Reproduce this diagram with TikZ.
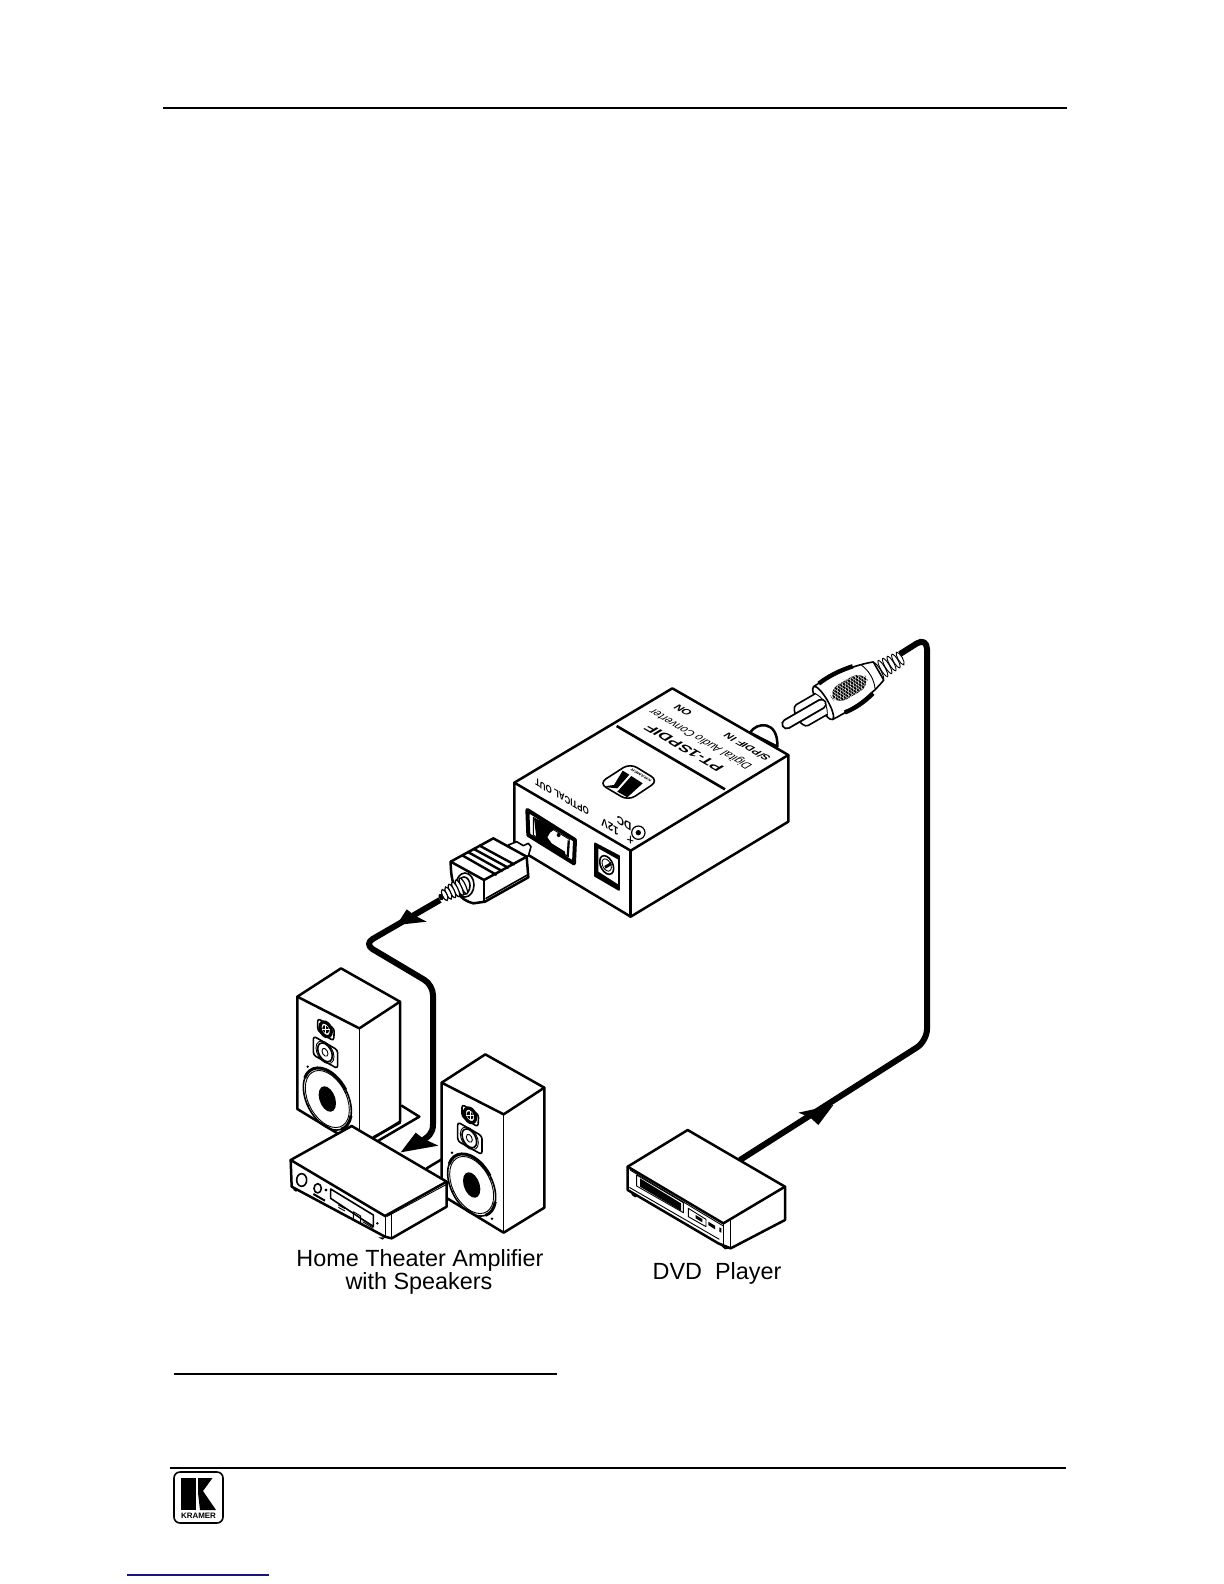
\documentclass[tikz,border=0pt]{standalone}
\usepackage{fontspec}
\usepackage{graphicx}
\setmainfont{Liberation Sans}
\definecolor{linkblue}{RGB}{20,20,130}
\tikzset{
  x=0.5pt,y=-0.5pt,
  heavy/.style={line width=1.25pt,line join=round,line cap=round},
  med/.style={line width=.8pt,line join=round,line cap=round},
  thin line/.style={line width=.45pt,line join=round},
  cable/.style={line width=3pt,line join=round,line cap=butt},
  rule/.style={line width=.75pt},
  zmA/.style={shift={(420,630)},scale=1/3},
  zmB/.style={shift={(270,940)},scale=1/3},
  zmC/.style={shift={(600,1080)},scale=1/3},
  zmF/.style={shift={(360,800)},scale=1/3},
  zmG/.style={shift={(500,680)},scale=1/3},
  label text/.style={font=\fontsize{11.7pt}{12.2pt}\selectfont,inner sep=0pt,anchor=base},
}
\newcommand\skewtext[5]{\begin{scope}[shift={(#2,#3)},cm={#4,(0,0)}]\node[transform shape,inner sep=0pt] (#1) {#5};\end{scope}}
\newcommand\fitbox[3]{\resizebox{#1pt}{#2pt}{#3}}
\newcommand\speaker{%
  \draw[heavy,fill=white] (213,85)--(390,185)--(390,545)--(268,620)--(82,507)--(82,170)--cycle;
  \draw[heavy] (82,170)--(268,265)--(390,185);
  \draw[med] (268,265)--(268,620);
  % tweeter
  \draw[med,rounded corners=1.5pt,fill=white] (143,235)--(193,266)--(191,303)--(143,272)--cycle;
  \draw[line width=1.6pt,shift={(167,268)},yslant=-.4] (0,0) ellipse (17 and 21);
  \fill[shift={(167,268)},yslant=-.4] (0,0) ellipse (10 and 12);
  \draw[white,line width=.3pt] (155,268)--(180,268) (167,255)--(167,282);
  % mid
  \draw[med,rounded corners=1.5pt,fill=white] (130,288)--(203,330)--(203,386)--(130,345)--cycle;
  \draw[thin line,shift={(165,337)},yslant=-.5] (0,0) ellipse (27 and 31) (0,0) ellipse (9 and 11);
  \draw[med,shift={(165,337)},yslant=-.5] (0,0) ellipse (22 and 26);
  % woofer
  \draw[med,shift={(172,477)},yslant=-.5] (0,0) ellipse (72 and 86);
  \draw[thin line,shift={(172,477)},yslant=-.5] (0,0) ellipse (66 and 79);
  \fill[shift={(172,477)},yslant=-.5] (0,0) ellipse (26 and 36);
  \draw[line width=1.5pt,shift={(172,477)},yslant=-.5] (200:72 and 86) arc[start angle=200,end angle=320,x radius=72,y radius=86];
  \draw[line width=1.5pt,shift={(172,477)},yslant=-.5] (10:72 and 86) arc[start angle=10,end angle=55,x radius=72,y radius=86];
  \fill (113,380) circle (4) (228,457) circle (4) (115,497) circle (4) (233,578) circle (4);
}
\begin{document}
\begin{tikzpicture}
\useasboundingbox (0,0) rectangle (1224,1584);
\fill[white] (0,0) rectangle (1224,1584);

% page furniture
\coordinate (ruleTopA) at (163,108); \coordinate (ruleTopB) at (1067,108);
\coordinate (ruleNoteA) at (174,1374); \coordinate (ruleNoteB) at (557,1374);
\coordinate (ruleFootA) at (170,1468); \coordinate (ruleFootB) at (1066,1468);
\coordinate (linkA) at (127,1575); \coordinate (linkB) at (269,1575);
\draw[rule] (ruleTopA)--(ruleTopB);
\draw[rule] (ruleNoteA)--(ruleNoteB);
\draw[rule] (ruleFootA)--(ruleFootB);
\draw[rule,linkblue] (linkA)--(linkB);

% Kramer footer logo
\draw[line width=.8pt,rounded corners=3pt] (174,1472) rectangle (223,1523);
\fill (181,1478) rectangle (196,1510);
\fill (198,1478)--(212.5,1478)--(203,1491)--(216,1510)--(200,1510)--(198,1493)--cycle;
\node[inner sep=0pt] (footlogo) at (198.5,1515.5) {\fitbox{17.5}{2.7}{\bfseries KRAMER}};

% ---------- cables
\coordinate (optA) at (440,900);
\coordinate (optB) at (364,944);
\coordinate (optC) at (433,985);
\coordinate (optD) at (433,1124);
\coordinate (optE) at (420,1142);
\draw[cable,rounded corners=5pt] (optA)--(optB)--(optC)--(optD);
\draw[cable] (optD) .. controls (433,1134) and (428,1137) .. (optE);

\coordinate (rcaA) at (900,654);
\coordinate (rcaB) at (927,637);
\coordinate (rcaC) at (927,1041);
\coordinate (rcaD) at (740,1160);
\draw[cable,rounded corners=6pt] (rcaA)--(rcaB)--(rcaC)--(rcaD);

% arrowheads
\begin{scope}[zmF]
  \fill (110,375)--(140,328)--(165,347)--(200,365)--cycle;
\end{scope}
\begin{scope}[zmC]
  \fill (700,75)--(595,98)--(630,112)--(655,135)--cycle;
\end{scope}

% ---------- left speaker, floor lines
\begin{scope}[zmB]
  \speaker
  \draw[heavy] (395,497)--(448,530)--(325,602);
  \draw[heavy] (390,548)--(310,592);
  \draw[heavy] (470,685)--(515,658);
  \fill (392,637)--(437,578)--(462,597)--(505,617)--cycle;
\end{scope}

% ---------- right speaker
\begin{scope}[zmB,shift={(433,258)}]
  \speaker
\end{scope}

% ---------- amplifier
\begin{scope}[zmB]
  \draw[heavy,fill=white] (62,660)--(245,558)--(530,725)--(530,800)--(365,895)--(345,890)--(65,740)--cycle;
  \draw[heavy] (62,660)--(345,828)--(530,725);
  \draw[thin line] (350,830)--(530,733);
  \draw[thin line] (345,828)--(345,890);
  \draw[med] (365,822)--(365,895);
  \draw[med,fill=white] (95,720) ellipse (15 and 19);
  \draw[med,fill=white] (143,745) ellipse (11 and 14);
  \draw[line width=1pt] (130,762)--(165,782);
  \draw[thin line] (168,750) circle (3);
  \draw[med] (182,747)--(310,825)--(310,860)--(182,775)--cycle;
  \draw[thin line] (205,795)--(225,806) (205,802)--(225,813);
  \draw[thin line] (250,815)--(272,828)--(272,852)--(250,839)--cycle;
  \draw[thin line] (278,838)--(310,858) (278,845)--(310,865);
  \fill (322,850) circle (4);
  \fill (70,742)--(85,750)--(78,755)--(70,750)--cycle;
  \fill (325,892)--(345,892)--(338,899)--cycle;
\end{scope}

% ---------- DVD player
\begin{scope}[zmC]
  \draw[heavy,fill=white] (83,260)--(263,150)--(555,320)--(555,420)--(392,505)--(355,490)--(83,330)--cycle;
  \draw[heavy] (83,260)--(370,430)--(555,320);
  \draw[med] (392,420)--(392,505);
  \draw[thin line] (370,430)--(370,495);
  \draw[thin line] (90,270)--(370,438);
  \draw[thin line] (88,322)--(358,478);
  \draw[thin line] (110,285)--(250,368)--(250,398)--(110,318)--cycle;
  \fill (120,295)--(243,370)--(243,393)--(120,320)--cycle;
  \draw[thin line] (265,385)--(318,418)--(318,440)--(265,410)--cycle;
  \fill (287,405)--(307,417)--(307,427)--(287,415)--cycle;
  \fill (325,425)--(345,437)--(345,448)--(325,435)--cycle;
  \fill (358,442)--(364,445)--(364,458)--(358,455)--cycle;
  \fill (95,335)--(115,348)--(105,352)--(95,345)--cycle;
  \fill (355,490)--(392,505)--(375,508)--cycle;
\end{scope}

% ---------- converter box
\begin{scope}[zmA]
  \draw[heavy,fill=white] (990,308) .. controls (1010,275) and (1075,270) .. (1072,350)--cycle;
  \draw[heavy,fill=white] (283,458)--(757,175)--(1105,375)--(1105,575)--(632,860)--(325,675)--(283,640)--cycle;
  \draw[heavy] (283,458)--(632,662)--(1105,375);
  \draw[heavy] (632,662)--(632,860);
  \draw[line width=1.3pt] (590,288)--(915,478);
  % DC jack
  \draw[med] (525,640)--(597,678)--(597,780)--(525,738)--cycle;
  \fill (525,640)--(597,678)--(597,690)--(535,655)--(535,725)--(597,765)--(597,780)--(525,738)--cycle;
  \draw[med,shift={(560,705)},yslant=-.5] (0,0) ellipse (21 and 26);
  \draw[thin line,shift={(560,705)},yslant=-.5] (0,0) ellipse (14 and 17);
  \fill (553,708)--(573,696)--(575,705)--(557,716)--cycle;
  % DC symbol
  \draw[line width=.6pt] (655,608) circle (20);
  \fill (655,608) circle (8);
  \draw[thin line] (631,617)--(631,640) (622,628)--(640,633);
\end{scope}

% optical port
\begin{scope}[zmG]
  \draw[line width=2pt,fill=white,line join=round] (82,390)--(225,480)--(222,550)--(85,465)--cycle;
  \draw[thin line] (100,412)--(208,478)--(205,530)--(100,465)--cycle;
  \fill (102,415)--(125,422)--(165,447)--(150,458)--(142,472)--(155,490)--(195,515)--(197,532)--(150,508)--(110,482)--cycle;
  \fill (176,465) circle (6);
  \fill (203,480)--(209,484)--(206,530)--(200,526)--cycle;
  % logo
  \draw[med,rounded corners=4pt,fill=white] (390,250)--(475,302)--(385,362)--(297,310)--cycle;
  \fill (368,272)--(388,284)--(352,325)--(322,322)--(318,318)--(342,315)--cycle;
  \fill (394,288)--(428,310)--(382,352)--(352,335)--cycle;
\end{scope}
\skewtext{boxbrand}{641}{775}{-.866,.5,-.857,-.515}{\fitbox{11.5}{1.4}{\bfseries KRAMER}}

% device prints
\skewtext{onlabel}{683}{710}{-.866,.5,-.857,-.515}{\fitbox{8.5}{3.6}{\bfseries ON}}
\skewtext{spdifin}{747}{747}{-.866,.5,-.857,-.515}{\fitbox{25}{3.6}{\bfseries S/PDIF IN}}
\skewtext{digital}{701}{739}{-.866,.5,-.857,-.515}{\fitbox{57}{4.4}{Digital Audio Converter}}
\skewtext{model}{684}{748}{-.866,.5,-.857,-.515}{\fitbox{43}{4.6}{\bfseries PT-1SPDIF}}
\skewtext{optout}{562}{797}{-.866,.5,0,-1}{\fitbox{31}{3.6}{\bfseries OPTICAL OUT}}
\skewtext{twelve}{610}{827}{-.866,.5,0,-1}{\fitbox{10}{4}{\bfseries 12V}}
\skewtext{dclab}{624}{823}{-.866,.5,0,-1}{\fitbox{8.5}{4}{\bfseries DC}}

% ---------- optical plug
\begin{scope}[zmF]
  \draw[med,fill=white] (445,135)--(470,125)--(490,137)--(505,130)--(513,140)--(505,168)--(470,170)--cycle;
  \draw[heavy,fill=white] (272,185)--(400,115)--(500,170)--(505,232)--(375,305)--(340,310) .. controls (300,300) and (272,270) .. (272,185);
  \draw[heavy] (272,185)--(372,240)--(500,170);
  \draw[med] (372,240)--(372,305);
  \draw[med] (378,295)--(502,225);
  \foreach \a/\b/\c/\d in {305/165/410/225,322/155/428/214,340/146/446/204,357/136/464/194}
    \draw[line width=1.2pt] (\a,\b)--(\c,\d);
  \draw[med,fill=white] (315,255) ellipse (27 and 36);
  \draw[med,fill=white] (312,257) ellipse (18 and 26);
  \foreach \px/\py/\ry in {310/258/26,298/263/25,287/268/24,276/273/22,265/279/20,254/285/18}
    \draw[line width=.6pt,fill=white,shift={(\px,\py)},rotate=25] (0,0) ellipse (7 and \ry);
  \fill[shift={(243,291)},rotate=25] (0,0) ellipse (7 and 10);
\end{scope}

% ---------- RCA plug (local axis along the plug)
\begin{scope}[shift={(785,725)},rotate=30]
  % strain relief
  \foreach \t/\r in {133/7.5,128/8,123/8.5,118/9,113/9.5,108/10}
    \draw[thin line,fill=white] (\t,-\r) .. controls (\t+3,-\r+2) and (\t+3,\r-2) .. (\t,\r) .. controls (\t-3,\r-2) and (\t-3,-\r+2) .. (\t,-\r);
  % body
  \draw[med,fill=white] (44,-19) .. controls (62,-20) and (85,-19) .. (108,-10.5)--(108,10.5) .. controls (85,19) and (62,20) .. (44,19)--cycle;
  \begin{scope}
    \clip[rounded corners=6pt] (54,-8.5) rectangle (94,8.5);
    \fill (54,-8.5) rectangle (94,8.5);
    \foreach \t in {44,47,...,104}
      \draw[white,line width=.2pt] (\t,-10)--(\t+10,10) (\t,10)--(\t+10,-10);
  \end{scope}
  \draw[line width=2.2pt] (50,-19) .. controls (62,-20.5) and (74,-20) .. (88,-17);
  \draw[line width=2.2pt] (58,19) .. controls (68,20.5) and (80,20) .. (92,16.5);
  \draw[thin line] (96,-14) .. controls (100,-5) and (100,5) .. (96,14);
  % collar
  \draw[med,fill=white] (44,0) ellipse (5 and 19);
  \draw[thin line] (41,-13) .. controls (47,-6) and (47,6) .. (41,13);
  % sleeve
  \draw[med,fill=white] (42,-12)--(20,-12) .. controls (12,-12) and (12,12) .. (20,12)--(42,12);
  % pin
  \draw[line width=5.5pt,line cap=round] (2,0)--(42,0);
  \draw[line width=3.6pt,line cap=round,white] (2,0)--(42,0);
\end{scope}

% labels
\node[label text] (lblHome) at (420,1266) {Home Theater Amplifier};
\node[label text] (lblWith) at (419,1289) {with Speakers};
\node[label text] (lblDvd) at (717,1279) {DVD\ \ Player};
\end{tikzpicture}
\end{document}
